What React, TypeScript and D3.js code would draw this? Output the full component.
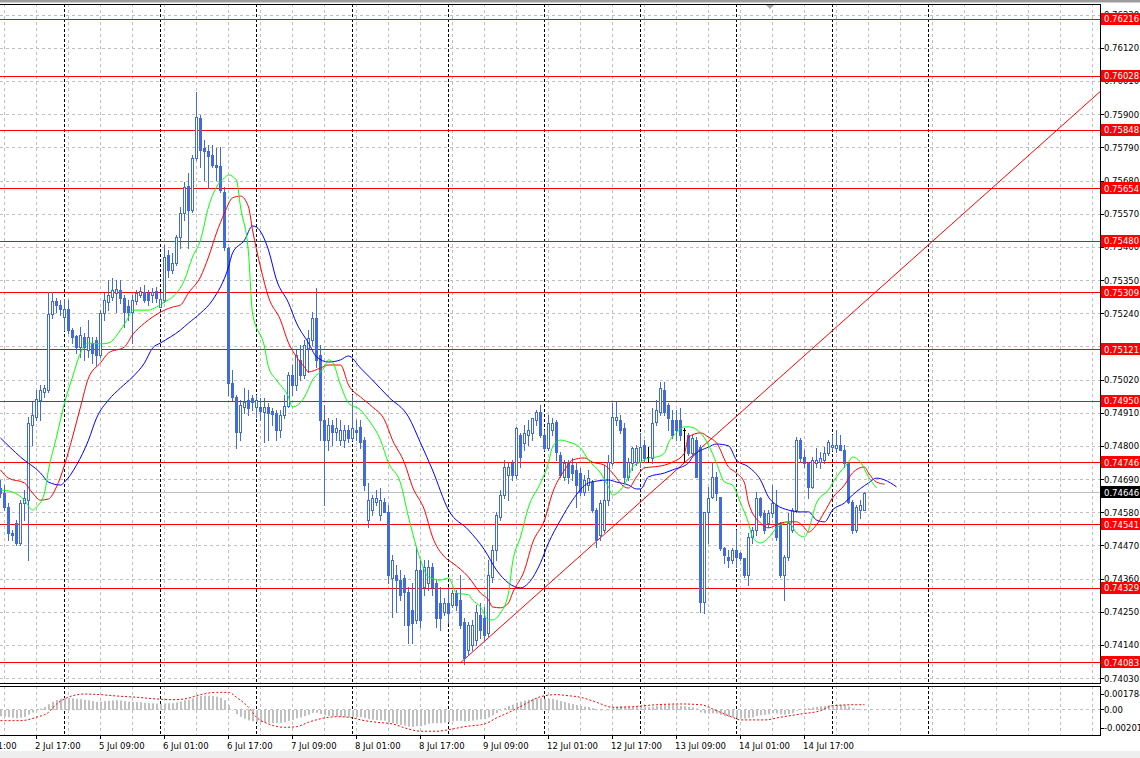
import React from "react";
import * as d3 from "d3";

// ---------------- DATA (H1 candles, bar 0 = 2 Jul 08:00) ----------------
const openP = [
  0.74662,0.74646,0.74599,0.74513,0.74546,0.74480,0.74613,0.74622,0.74871,0.74898,
  0.74954,0.74980,0.74987,0.75239,0.75282,0.75269,0.75229,0.75256,0.75186,0.75166,
  0.75130,0.75163,0.75120,0.75143,0.75153,0.75103,0.75242,0.75279,0.75295,0.75309,
  0.75319,0.75292,0.75266,0.75246,0.75282,0.75302,0.75312,0.75309,0.75302,0.75315,
  0.75262,0.75285,0.75435,0.75385,0.75408,0.75494,0.75574,0.75663,0.75584,0.75756,
  0.75889,0.75789,0.75779,0.75766,0.75733,0.75730,0.75644,0.75458,0.75010,0.74964,
  0.74848,0.74931,0.74954,0.74961,0.74931,0.74931,0.74914,0.74931,0.74918,0.74911,
  0.74855,0.74904,0.74934,0.75037,0.75004,0.75087,0.75037,0.75126,0.75153,0.75226,
  0.75103,0.74888,0.74821,0.74871,0.74848,0.74821,0.74821,0.74855,0.74828,0.74855,
  0.74865,0.74821,0.74556,0.74589,0.74616,0.74573,0.74616,0.74583,0.74364,0.74374,
  0.74357,0.74364,0.74317,0.74258,0.74225,0.74390,0.74334,0.74347,0.74400,0.74347,
  0.74281,0.74251,0.74281,0.74274,0.74314,0.74291,0.74218,0.74125,0.74142,0.74158,
  0.74241,0.74231,0.74182,0.74367,0.74457,0.74566,0.74639,0.74705,0.74745,0.74705,
  0.74838,0.74812,0.74838,0.74845,0.74888,0.74914,0.74838,0.74795,0.74855,0.74881,
  0.74772,0.74699,0.74748,0.74738,0.74722,0.74712,0.74649,0.74672,0.74682,0.74589,
  0.74506,0.74523,0.74622,0.74745,0.74888,0.74888,0.74861,0.74699,0.74745,0.74748,
  0.74748,0.74805,0.74765,0.74762,0.74881,0.74914,0.74987,0.74937,0.74888,0.74888,
  0.74888,0.74855,0.74838,0.74778,0.74821,0.74798,0.74284,0.74583,0.74632,0.74699,
  0.74632,0.74463,0.74434,0.74424,0.74457,0.74447,0.74430,0.74374,0.74500,0.74523,
  0.74629,0.74579,0.74546,0.74579,0.74606,0.74546,0.74374,0.74434,0.74523,0.74589,
  0.74821,0.74765,0.74745,0.74666,0.74745,0.74748,0.74755,0.74778,0.74798,0.74795,
  0.74805,0.74788,0.74745,0.74616,0.74523,0.74589,0.74589,
];
const highP = [
  0.74689,0.74672,0.74613,0.74523,0.74556,0.74622,0.74656,0.74898,0.74947,0.74987,
  0.75004,0.75004,0.75312,0.75312,0.75292,0.75285,0.75289,0.75285,0.75193,0.75170,
  0.75196,0.75176,0.75219,0.75163,0.75163,0.75252,0.75309,0.75352,0.75358,0.75352,
  0.75352,0.75302,0.75285,0.75302,0.75319,0.75329,0.75335,0.75319,0.75325,0.75329,
  0.75309,0.75468,0.75451,0.75441,0.75501,0.75594,0.75677,0.75707,0.75766,0.75975,
  0.75899,0.75816,0.75799,0.75799,0.75789,0.75793,0.75660,0.75461,0.75053,0.74971,
  0.74954,0.74994,0.74987,0.74971,0.74971,0.74961,0.74961,0.74944,0.74928,0.74921,
  0.74921,0.74971,0.75047,0.75070,0.75120,0.75136,0.75153,0.75186,0.75246,0.75325,
  0.75136,0.74937,0.74894,0.74888,0.74894,0.74888,0.74871,0.74871,0.74971,0.74888,
  0.74888,0.74831,0.74679,0.74639,0.74656,0.74662,0.74629,0.74606,0.74440,0.74407,
  0.74390,0.74374,0.74334,0.74347,0.74467,0.74424,0.74424,0.74424,0.74414,0.74357,
  0.74334,0.74298,0.74334,0.74324,0.74324,0.74374,0.74231,0.74218,0.74225,0.74274,
  0.74281,0.74268,0.74424,0.74473,0.74583,0.74656,0.74755,0.74748,0.74755,0.74865,
  0.74845,0.74871,0.74888,0.74894,0.74921,0.74937,0.74855,0.74904,0.74894,0.74888,
  0.74782,0.74755,0.74755,0.74762,0.74748,0.74729,0.74705,0.74722,0.74689,0.74596,
  0.74622,0.74738,0.74772,0.74944,0.74947,0.74904,0.74878,0.74762,0.74798,0.74805,
  0.74845,0.74821,0.74798,0.74928,0.74954,0.75014,0.75014,0.74944,0.74921,0.74921,
  0.74928,0.74861,0.74845,0.74838,0.74831,0.74805,0.74583,0.74666,0.74748,0.74715,
  0.74632,0.74467,0.74457,0.74463,0.74523,0.74450,0.74430,0.74513,0.74533,0.74649,
  0.74632,0.74589,0.74589,0.74672,0.74656,0.74550,0.74440,0.74579,0.74596,0.74831,
  0.74828,0.74788,0.74748,0.74765,0.74795,0.74782,0.74798,0.74821,0.74838,0.74855,
  0.74838,0.74805,0.74745,0.74622,0.74606,0.74622,0.74649,
];
const lowP = [
  0.74632,0.74589,0.74490,0.74490,0.74473,0.74473,0.74556,0.74424,0.74805,0.74888,
  0.74888,0.74964,0.74980,0.75226,0.75246,0.75236,0.75186,0.75176,0.75143,0.75110,
  0.75097,0.75087,0.75097,0.75077,0.75070,0.75097,0.75219,0.75252,0.75285,0.75246,
  0.75276,0.75196,0.75219,0.75143,0.75272,0.75295,0.75279,0.75269,0.75279,0.75279,
  0.75262,0.75279,0.75362,0.75375,0.75402,0.75458,0.75551,0.75458,0.75577,0.75750,
  0.75726,0.75683,0.75657,0.75726,0.75683,0.75644,0.75451,0.74971,0.74954,0.74795,
  0.74821,0.74911,0.74904,0.74921,0.74898,0.74888,0.74815,0.74821,0.74871,0.74821,
  0.74831,0.74894,0.74931,0.74971,0.74987,0.75020,0.75027,0.75047,0.75136,0.75063,
  0.74821,0.74606,0.74788,0.74805,0.74821,0.74805,0.74798,0.74815,0.74821,0.74821,
  0.74795,0.74656,0.74533,0.74573,0.74606,0.74556,0.74583,0.74347,0.74235,0.74251,
  0.74291,0.74208,0.74148,0.74148,0.74215,0.74201,0.74308,0.74324,0.74308,0.74201,
  0.74191,0.74241,0.74215,0.74268,0.74258,0.74198,0.74079,0.74109,0.74125,0.74142,
  0.74165,0.74158,0.74172,0.74351,0.74424,0.74556,0.74629,0.74622,0.74689,0.74695,
  0.74732,0.74788,0.74805,0.74821,0.74871,0.74831,0.74788,0.74788,0.74838,0.74755,
  0.74699,0.74689,0.74679,0.74689,0.74599,0.74639,0.74639,0.74656,0.74583,0.74467,
  0.74490,0.74516,0.74606,0.74738,0.74871,0.74845,0.74682,0.74689,0.74722,0.74738,
  0.74732,0.74748,0.74748,0.74745,0.74871,0.74904,0.74904,0.74855,0.74828,0.74821,
  0.74821,0.74748,0.74772,0.74772,0.74699,0.74251,0.74248,0.74480,0.74629,0.74622,
  0.74457,0.74414,0.74400,0.74414,0.74400,0.74424,0.74367,0.74341,0.74480,0.74506,
  0.74566,0.74513,0.74533,0.74566,0.74490,0.74367,0.74291,0.74424,0.74516,0.74583,
  0.74748,0.74732,0.74629,0.74662,0.74732,0.74729,0.74745,0.74772,0.74788,0.74782,
  0.74788,0.74732,0.74613,0.74513,0.74516,0.74563,0.74589,
];
const closeP = [
  0.74646,0.74599,0.74513,0.74506,0.74480,0.74613,0.74629,0.74878,0.74904,0.74957,
  0.74987,0.74994,0.75239,0.75282,0.75269,0.75256,0.75256,0.75186,0.75163,0.75130,
  0.75170,0.75130,0.75163,0.75110,0.75103,0.75242,0.75285,0.75302,0.75319,0.75322,
  0.75292,0.75246,0.75246,0.75285,0.75309,0.75315,0.75285,0.75285,0.75312,0.75292,
  0.75289,0.75428,0.75385,0.75408,0.75494,0.75574,0.75660,0.75584,0.75756,0.75892,
  0.75783,0.75779,0.75763,0.75733,0.75726,0.75650,0.75461,0.75010,0.74964,0.74848,
  0.74937,0.74947,0.74928,0.74947,0.74954,0.74918,0.74931,0.74911,0.74908,0.74855,
  0.74904,0.74934,0.75037,0.75004,0.75103,0.75037,0.75136,0.75160,0.75226,0.75087,
  0.74888,0.74821,0.74871,0.74848,0.74861,0.74855,0.74855,0.74828,0.74861,0.74848,
  0.74815,0.74672,0.74622,0.74629,0.74629,0.74622,0.74583,0.74374,0.74424,0.74357,
  0.74308,0.74317,0.74208,0.74215,0.74390,0.74225,0.74400,0.74400,0.74334,0.74231,
  0.74231,0.74281,0.74248,0.74314,0.74274,0.74208,0.74099,0.74208,0.74208,0.74251,
  0.74191,0.74175,0.74374,0.74457,0.74573,0.74639,0.74732,0.74732,0.74705,0.74861,
  0.74765,0.74845,0.74855,0.74894,0.74914,0.74838,0.74795,0.74878,0.74878,0.74782,
  0.74705,0.74745,0.74699,0.74712,0.74672,0.74649,0.74689,0.74695,0.74589,0.74490,
  0.74613,0.74622,0.74748,0.74898,0.74898,0.74855,0.74699,0.74748,0.74795,0.74795,
  0.74798,0.74762,0.74765,0.74878,0.74921,0.74994,0.74914,0.74894,0.74838,0.74855,
  0.74838,0.74855,0.74778,0.74828,0.74699,0.74284,0.74583,0.74629,0.74699,0.74646,
  0.74463,0.74440,0.74424,0.74457,0.74434,0.74430,0.74374,0.74500,0.74523,0.74629,
  0.74573,0.74523,0.74579,0.74613,0.74500,0.74374,0.74434,0.74546,0.74589,0.74821,
  0.74762,0.74745,0.74666,0.74755,0.74755,0.74762,0.74778,0.74815,0.74805,0.74805,
  0.74788,0.74745,0.74616,0.74523,0.74599,0.74606,0.74646,
];

// Alligator lines: [bar, price]
const jawLine: [number, number][] = [
  [0,0.74828],[5,0.74765],[10,0.74712],[12,0.74682],[15,0.74672],[16,0.74682],[19,0.74738],[22,0.74821],
  [24,0.74894],[27,0.74954],[30,0.74994],[33,0.75030],[36,0.75077],[38,0.75126],[40,0.75143],[45,0.75186],
  [47,0.75209],[50,0.75242],[53,0.75285],[57,0.75395],[58,0.75441],[61,0.75484],[63,0.75531],[64,0.75527],
  [67,0.75451],[69,0.75352],[72,0.75276],[74,0.75209],[77,0.75143],[79,0.75097],[82,0.75080],[85,0.75087],
  [87,0.75100],[90,0.75060],[93,0.75020],[97,0.74964],[102,0.74898],[105,0.74812],[108,0.74722],[112,0.74589],
  [117,0.74523],[121,0.74457],[124,0.74390],[127,0.74347],[130,0.74331],[132,0.74347],[135,0.74414],[137,0.74480],
  [140,0.74556],[143,0.74622],[147,0.74679],[149,0.74685],[152,0.74689],[154,0.74682],[157,0.74672],[159,0.74659],
  [160,0.74659],[162,0.74699],[166,0.74712],[168,0.74722],[172,0.74745],[173,0.74765],[177,0.74798],[179,0.74808],
  [182,0.74802],[184,0.74755],[187,0.74732],[190,0.74689],[192,0.74632],[194,0.74606],[197,0.74589],[200,0.74583],
  [202,0.74583],[204,0.74556],[206,0.74550],[208,0.74589],[211,0.74613],[213,0.74639],[217,0.74679],[219,0.74695],
  [221,0.74689],[224,0.74666],
];
const teethLine: [number, number][] = [
  [0,0.74722],[2,0.74695],[6,0.74679],[8,0.74646],[10,0.74622],[12,0.74626],[14,0.74666],[16,0.74738],
  [18,0.74831],[20,0.74931],[22,0.75027],[25,0.75077],[27,0.75110],[31,0.75130],[33,0.75170],[36,0.75209],
  [38,0.75229],[41,0.75252],[43,0.75262],[45,0.75269],[47,0.75309],[50,0.75362],[52,0.75428],[54,0.75508],
  [56,0.75574],[58,0.75624],[60,0.75630],[62,0.75594],[63,0.75518],[65,0.75395],[67,0.75295],[70,0.75219],
  [72,0.75143],[74,0.75097],[76,0.75063],[77,0.75047],[80,0.75060],[82,0.75070],[85,0.75070],[87,0.75004],
  [90,0.74964],[93,0.74931],[96,0.74888],[98,0.74821],[101,0.74745],[103,0.74666],[106,0.74589],[108,0.74500],
  [111,0.74434],[113,0.74414],[117,0.74367],[120,0.74314],[122,0.74291],[123,0.74268],[125,0.74265],[127,0.74281],
  [128,0.74314],[131,0.74390],[133,0.74480],[136,0.74556],[138,0.74646],[141,0.74722],[143,0.74755],[146,0.74762],
  [148,0.74748],[151,0.74738],[153,0.74712],[156,0.74666],[157,0.74662],[159,0.74699],[161,0.74729],[163,0.74732],
  [166,0.74738],[168,0.74748],[171,0.74778],[172,0.74831],[175,0.74845],[177,0.74831],[179,0.74812],[182,0.74732],
  [184,0.74712],[186,0.74679],[187,0.74613],[190,0.74546],[192,0.74530],[195,0.74546],[197,0.74550],[199,0.74550],
  [201,0.74530],[202,0.74516],[204,0.74540],[206,0.74583],[208,0.74629],[211,0.74672],[213,0.74712],[216,0.74732],
  [217,0.74712],[219,0.74682],[221,0.74675],
];
const lipsLine: [number, number][] = [
  [0,0.74656],[3,0.74649],[6,0.74622],[8,0.74589],[9,0.74599],[11,0.74646],[12,0.74722],[14,0.74831],
  [16,0.74944],[18,0.75030],[20,0.75110],[22,0.75143],[25,0.75140],[27,0.75143],[30,0.75186],[32,0.75229],
  [33,0.75252],[37,0.75252],[39,0.75262],[41,0.75279],[43,0.75295],[46,0.75352],[48,0.75428],[50,0.75484],
  [52,0.75594],[54,0.75660],[56,0.75690],[57,0.75700],[59,0.75683],[60,0.75594],[62,0.75441],[63,0.75242],
  [66,0.75130],[67,0.75063],[69,0.75020],[72,0.74964],[73,0.74931],[76,0.74964],[78,0.75020],[81,0.75063],
  [82,0.75087],[83,0.75080],[85,0.75004],[87,0.74944],[90,0.74921],[92,0.74888],[95,0.74821],[97,0.74745],
  [100,0.74679],[102,0.74566],[105,0.74424],[107,0.74367],[110,0.74357],[112,0.74364],[114,0.74314],[117,0.74308],
  [118,0.74291],[120,0.74268],[122,0.74225],[123,0.74225],[125,0.74248],[127,0.74314],[128,0.74414],[130,0.74500],
  [132,0.74599],[135,0.74679],[137,0.74745],[138,0.74798],[140,0.74821],[142,0.74815],[145,0.74795],[147,0.74755],
  [150,0.74712],[152,0.74666],[153,0.74639],[155,0.74656],[157,0.74699],[158,0.74732],[160,0.74748],[162,0.74762],
  [164,0.74765],[166,0.74778],[167,0.74812],[169,0.74845],[171,0.74865],[172,0.74865],[175,0.74845],[177,0.74805],
  [179,0.74745],[181,0.74682],[183,0.74672],[185,0.74613],[187,0.74546],[188,0.74500],[190,0.74480],[192,0.74497],
  [194,0.74530],[196,0.74546],[197,0.74550],[199,0.74513],[201,0.74500],[202,0.74523],[204,0.74613],[207,0.74656],
  [209,0.74699],[212,0.74748],[213,0.74765],[215,0.74748],[217,0.74699],[219,0.74662],
];

// MACD signal line: [bar, value]
const macdSignal: [number, number][] = [
  [0,-0.00119],[5,-0.00119],[9,-0.00081],[12,-0.00026],[14,0.00067],[16,0.00123],[18,0.00159],[21,0.00178],
  [25,0.00171],[30,0.00153],[34,0.00142],[39,0.00123],[43,0.00115],[46,0.00123],[50,0.00171],[54,0.00197],
  [57,0.00197],[59,0.00142],[62,0.00030],[64,-0.00081],[67,-0.00156],[71,-0.00193],[74,-0.00186],[77,-0.00137],
  [81,-0.00089],[84,-0.00075],[87,-0.00081],[91,-0.00119],[94,-0.00137],[98,-0.00156],[102,-0.00212],[105,-0.00237],
  [109,-0.00237],[113,-0.00212],[116,-0.00186],[121,-0.00156],[124,-0.00089],[128,-0.00008],[132,0.00086],[135,0.00148],
  [139,0.00171],[142,0.00159],[145,0.00142],[149,0.00086],[153,0.00030],[158,0.00037],[164,0.00059],[170,0.00067],
  [175,0.00059],[179,-0.00008],[183,-0.00081],[185,-0.00111],[191,-0.00111],[195,-0.00081],[200,-0.00045],[205,-0.00008],
  [208,0.00048],[214,0.00059],[216,0.00059],
];
const ema12Start = 0.7471;
const ema26Start = 0.7478;

const levelPrices = [0.76216, 0.76028, 0.75848, 0.75654, 0.7548, 0.75309, 0.75121, 0.7495, 0.74746, 0.74541, 0.74329, 0.74083];
const levelLabels = ["0.76216", "0.76028", "0.75848", "0.75654", "0.75480", "0.75309", "0.75121", "0.74950", "0.74746", "0.74541", "0.74329", "0.74083"];
const bidPrice = 0.74646;
const bidLabel = "0.74646";
const trendAnchors: [number, number][] = [[115, 0.74083], [216, 0.75279]];

const priceTicks = [0.7623, 0.7612, 0.7601, 0.759, 0.7579, 0.7568, 0.7557, 0.7546, 0.7535, 0.7524, 0.7513,
  0.7502, 0.7491, 0.748, 0.7469, 0.7458, 0.7447, 0.7436, 0.7425, 0.7414, 0.7403];
const priceTickLabels = ["0.76230", "0.76120", "0.76010", "0.75900", "0.75790", "0.75680", "0.75570", "0.75460", "0.75350", "0.75240", "0.75130",
  "0.75020", "0.74910", "0.74800", "0.74690", "0.74580", "0.74470", "0.74360", "0.74250", "0.74140", "0.74030"];
const macdTicks = [0.001784, 0, -0.00201];
const macdTickLabels = ["0.001784", "0.00", "-0.00201"];

const timeLabels: { bar: number; text: string }[] = [
  { bar: -7, text: "2 Jul 01:00" }, { bar: 9, text: "2 Jul 17:00" }, { bar: 25, text: "5 Jul 09:00" },
  { bar: 41, text: "6 Jul 01:00" }, { bar: 57, text: "6 Jul 17:00" }, { bar: 73, text: "7 Jul 09:00" },
  { bar: 89, text: "8 Jul 01:00" }, { bar: 105, text: "8 Jul 17:00" }, { bar: 121, text: "9 Jul 09:00" },
  { bar: 137, text: "12 Jul 01:00" }, { bar: 153, text: "12 Jul 17:00" }, { bar: 169, text: "13 Jul 09:00" },
  { bar: 185, text: "14 Jul 01:00" }, { bar: 201, text: "14 Jul 17:00" },
];
const daySeparatorBars = [16, 40, 64, 88, 112, 136, 160, 184, 208, 232];

// ---------------- LAYOUT ----------------
const W = 1140;
const H = 758;
const PR = 1100; // plot right edge
const MAIN_TOP = 4;
const MAIN_BOT = 683;
const IND_TOP = 686;
const IND_BOT = 735;
const CANDLE = "#4169E1";
const FONT = "Tahoma, 'DejaVu Sans', sans-serif";
const FS = 8.5;

const snap = (v: number) => Math.floor(v) + 0.5;

export default function App() {
  const x = d3.scaleLinear().domain([0, 1]).range([0.5, 4.5]);
  const y = d3.scaleLinear().domain([0.7403, 0.7612]).range([678.7, 48.3]);
  const yi = d3.scaleLinear().domain([-0.00201, 0.001784]).range([728, 694]);

  // MACD main (EMA12 - EMA26 of close)
  const ema = (vals: number[], period: number, start: number) => {
    const k = 2 / (period + 1);
    let e = start;
    return vals.map((v) => (e = e + k * (v - e)));
  };
  const e12 = ema(closeP, 12, ema12Start);
  const e26 = ema(closeP, 26, ema26Start);
  const macdMain = closeP.map((_, i) => e12[i] - e26[i]);

  const gridBars = d3.range(1, 280, 8).filter((b) => x(b) < PR);

  const lineGen = d3
    .line<[number, number]>()
    .x((d) => x(d[0]))
    .y((d) => y(d[1]))
    .curve(d3.curveMonotoneX);
  const sigGen = d3
    .line<[number, number]>()
    .x((d) => x(d[0]))
    .y((d) => yi(d[1]))
    .curve(d3.curveMonotoneX);

  // trend ray
  const [a, b] = trendAnchors;
  const slope = (b[1] - a[1]) / (b[0] - a[0]);
  const endBar = x.invert(PR);
  const trendEnd: [number, number] = [endBar, a[1] + slope * (endBar - a[0])];

  const candles = openP.map((o, i) => {
    const c = closeP[i];
    const hi = Math.max(highP[i], o, c);
    const lo = Math.min(lowP[i], o, c);
    const cx = x(i);
    const yo = Math.round(y(o));
    const yc = Math.round(y(c));
    const doji = Math.abs(o - c) < 0.000005;
    const color = doji ? "#000" : CANDLE;
    return (
      <g key={i}>
        <line x1={cx} x2={cx} y1={Math.round(y(hi))} y2={Math.round(y(lo)) + 1} stroke={color} strokeWidth={1} />
        {doji ? (
          <line x1={cx - 1.5} x2={cx + 1.5} y1={yo + 0.5} y2={yo + 0.5} stroke="#000" strokeWidth={1} />
        ) : c > o ? (
          <rect x={cx - 1} y={yc + 0.5} width={2} height={Math.max(yo - yc, 1)} fill="#fff" stroke={CANDLE} strokeWidth={1} />
        ) : (
          <rect x={cx - 1.5} y={yo} width={3} height={Math.max(yc - yo, 1) + 1} fill={CANDLE} />
        )}
      </g>
    );
  });

  return (
    <svg
      width={W}
      height={H}
      viewBox={`0 0 ${W} ${H}`}
      style={{ position: "absolute", left: 0, top: 0, display: "block", background: "#fff" }}
    >
      <defs>
        <clipPath id="mainClip">
          <rect x={0} y={MAIN_TOP + 1} width={PR} height={MAIN_BOT - MAIN_TOP - 1} />
        </clipPath>
        <clipPath id="indClip">
          <rect x={0} y={IND_TOP + 1} width={PR} height={IND_BOT - IND_TOP - 1} />
        </clipPath>
      </defs>
      <rect x={0} y={0} width={W} height={H} fill="#fff" />
      <rect x={0} y={0} width={W} height={2.5} fill="#9C9C9C" />
      <rect x={0} y={751} width={W} height={7} fill="#EEEEEE" />

      {/* ---------- main window ---------- */}
      <g clipPath="url(#mainClip)">
        {priceTicks.map((p, k) => (
          <line key={"hg" + k} x1={0} x2={PR} y1={snap(y(p))} y2={snap(y(p))} stroke="#C0C0C0" strokeDasharray="3,3" />
        ))}
        {gridBars.map((bb) => (
          <line key={"vg" + bb} x1={x(bb)} x2={x(bb)} y1={MAIN_TOP} y2={MAIN_BOT} stroke="#C0C0C0" strokeDasharray="3,3" />
        ))}
        {daySeparatorBars.map((bb) => (
          <line key={"ds" + bb} x1={x(bb)} x2={x(bb)} y1={MAIN_TOP} y2={MAIN_BOT} stroke="#000" strokeDasharray="3,2" />
        ))}
        <line x1={0} x2={PR} y1={snap(y(bidPrice))} y2={snap(y(bidPrice))} stroke="#C0C0C0" />
        {levelPrices.map((p, k) => (
          <line key={"lv" + k} x1={0} x2={PR} y1={snap(y(p))} y2={snap(y(p))} stroke="#FF0000" />
        ))}
        <line
          x1={x(a[0])}
          y1={y(a[1])}
          x2={x(trendEnd[0])}
          y2={y(trendEnd[1])}
          stroke="#FF0000"
          strokeWidth={1}
        />
        {candles}
        <path d={lineGen(jawLine) || ""} fill="none" stroke="#0000FF" strokeWidth={1} />
        <path d={lineGen(teethLine) || ""} fill="none" stroke="#FF0000" strokeWidth={1} />
        <path d={lineGen(lipsLine) || ""} fill="none" stroke="#00FF00" strokeWidth={1} />
      </g>
      <line x1={0} x2={PR + 0.5} y1={MAIN_TOP + 0.5} y2={MAIN_TOP + 0.5} stroke="#000" />
      <line x1={0} x2={PR + 0.5} y1={MAIN_BOT + 0.5} y2={MAIN_BOT + 0.5} stroke="#000" />
      <line x1={PR + 0.5} x2={PR + 0.5} y1={MAIN_TOP} y2={MAIN_BOT + 1} stroke="#000" />
      <polygon points="766,5 774,5 770,9" fill="#A8A8A8" />

      {/* price axis */}
      {priceTicks.map((p, k) => (
        <g key={"pt" + k}>
          <line x1={PR} x2={PR + 4} y1={snap(y(p))} y2={snap(y(p))} stroke="#000" />
          <text x={PR + 4} y={y(p)} dy="0.35em" fontFamily={FONT} fontSize={FS} fill="#000">
            {priceTickLabels[k]}
          </text>
        </g>
      ))}
      {levelPrices.map((p, k) => (
        <g key={"ll" + k}>
          <rect x={PR + 1} y={snap(y(p)) - 6.5} width={45} height={12} fill="#FF0000" />
          <text x={PR + 4} y={y(p)} dy="0.35em" fontFamily={FONT} fontSize={FS} fill="#fff">
            {levelLabels[k]}
          </text>
        </g>
      ))}
      <rect x={PR + 1} y={snap(y(bidPrice)) - 6.5} width={45} height={12} fill="#000" />
      <text x={PR + 4} y={y(bidPrice)} dy="0.35em" fontFamily={FONT} fontSize={FS} fill="#fff">
        {bidLabel}
      </text>

      {/* ---------- MACD window ---------- */}
      <g clipPath="url(#indClip)">
        {gridBars.map((bb) => (
          <line key={"ivg" + bb} x1={x(bb)} x2={x(bb)} y1={IND_TOP} y2={IND_BOT} stroke="#C0C0C0" strokeDasharray="3,3" />
        ))}
        {daySeparatorBars.map((bb) => (
          <line key={"ids" + bb} x1={x(bb)} x2={x(bb)} y1={IND_TOP} y2={IND_BOT} stroke="#000" strokeDasharray="3,2" />
        ))}
        <line x1={0} x2={PR} y1={snap(yi(0))} y2={snap(yi(0))} stroke="#C0C0C0" strokeDasharray="3,3" />
        {macdMain.map((v, i) => {
          const y0 = yi(0);
          const y1 = yi(v);
          return (
            <rect
              key={"h" + i}
              x={Math.round(x(i) - 1)}
              y={Math.min(y0, y1)}
              width={2}
              height={Math.max(Math.abs(y1 - y0), 0.5)}
              fill="#C0C0C0"
            />
          );
        })}
        <path d={sigGen(macdSignal) || ""} fill="none" stroke="#FF0000" strokeWidth={1} strokeDasharray="2,2" />
      </g>
      <line x1={0} x2={PR + 0.5} y1={IND_TOP + 0.5} y2={IND_TOP + 0.5} stroke="#000" />
      <line x1={0} x2={PR + 0.5} y1={IND_BOT + 0.5} y2={IND_BOT + 0.5} stroke="#000" />
      <line x1={PR + 0.5} x2={PR + 0.5} y1={IND_TOP} y2={IND_BOT + 1} stroke="#000" />
      {macdTicks.map((v, k) => (
        <g key={"mt" + k}>
          <line x1={PR} x2={PR + 4} y1={snap(yi(v))} y2={snap(yi(v))} stroke="#000" />
          <text x={PR + 4} y={yi(v)} dy="0.35em" fontFamily={FONT} fontSize={FS} fill="#000">
            {macdTickLabels[k]}
          </text>
        </g>
      ))}

      {/* time axis */}
      {timeLabels.map((t) => (
        <g key={"tl" + t.bar}>
          <line x1={x(t.bar)} x2={x(t.bar)} y1={IND_BOT + 1} y2={IND_BOT + 4} stroke="#000" />
          <text x={x(t.bar) - 1.5} y={748.5} fontFamily={FONT} fontSize={FS} fill="#000">
            {t.text}
          </text>
        </g>
      ))}
    </svg>
  );
}
